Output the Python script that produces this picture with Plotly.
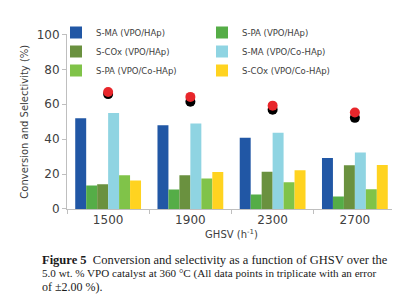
import plotly.graph_objects as go

categories = ["1500", "1900", "2300", "2700"]
series_names = ["S-MA (VPO/HAp)", "S-PA (VPO/HAp)", "S-COx (VPO/HAp)",
                "S-MA (VPO/Co-HAp)", "S-PA (VPO/Co-HAp)", "S-COx (VPO/Co-HAp)"]
s_ma_hap = [52.0, 48.0, 40.8, 29.2]
s_pa_hap = [13.4, 11.2, 8.3, 7.2]
s_cox_hap = [14.2, 19.4, 21.3, 25.0]
s_ma_cohap = [55.0, 48.9, 43.7, 32.3]
s_pa_cohap = [19.4, 17.5, 15.3, 11.3]
s_cox_cohap = [16.3, 21.2, 22.2, 25.2]
conv_hap = [65.8, 61.4, 56.9, 52.2]      # black dots
conv_cohap = [67.0, 64.2, 59.2, 55.3]    # red dots

colors = ["#2157A5", "#55AD47", "#6A913F", "#8FD4E2", "#80C349", "#FFD320"]
series = [s_ma_hap, s_pa_hap, s_cox_hap, s_ma_cohap, s_pa_cohap, s_cox_cohap]

FONT = "DejaVu Sans"
W, H = 400, 298
M_L, M_R, M_T, M_B = 48, 12, 3, 97
PAPER_W = W - M_L - M_R
PAPER_H = H - M_T - M_B
AXIS_LEFT_PX = 59
AXIS_TOP_PX = 20                   # pixel row of y = 100
x_dom_left = (AXIS_LEFT_PX - M_L) / PAPER_W
y_dom_top = (H - M_B - AXIS_TOP_PX) / PAPER_H

fig = go.Figure()
for name, vals, c in zip(series_names, series, colors):
    fig.add_trace(go.Bar(x=categories, y=vals, name=name, marker_color=c,
                         marker_line_width=0))

fig.add_trace(go.Scatter(x=categories, y=conv_hap, mode="markers",
                         marker=dict(color="black", size=10), showlegend=False))
fig.add_trace(go.Scatter(x=categories, y=conv_cohap, mode="markers",
                         marker=dict(color="#E8262B", size=10), showlegend=False))

fig.update_layout(
    width=W, height=H,
    margin=dict(l=M_L, r=M_R, t=M_T, b=M_B),
    paper_bgcolor="white", plot_bgcolor="white",
    barmode="group", bargap=0.2, bargroupgap=0,
    font=dict(family=FONT, color="#404040"),
    showlegend=True,
    legend=dict(orientation="h", x=0.0, y=1.0, xanchor="left", yanchor="top",
                font=dict(size=8.5, color="#404040", family=FONT),
                entrywidth=101, entrywidthmode="pixels",
                bgcolor="rgba(0,0,0,0)", traceorder="normal"),
    xaxis=dict(domain=[x_dom_left, 1], showline=True, linecolor="#BFBFBF",
               linewidth=1, ticks="outside", tickson="boundaries",
               tickcolor="#BFBFBF", ticklen=4,
               tickfont=dict(size=12, color="#404040"),
               title=dict(text="GHSV (h<sup>-1</sup>)", font=dict(size=10, color="#404040"),
                          standoff=4)),
    yaxis=dict(range=[0, 100], dtick=20, domain=[0, y_dom_top], showline=True,
               linecolor="#BFBFBF", linewidth=1, ticks="outside",
               tickcolor="#BFBFBF", ticklen=4,
               showgrid=False, zeroline=False,
               tickfont=dict(size=12, color="#404040"),
               title=dict(text="Conversion and Selectivity (%)",
                          font=dict(size=10, color="#404040"), standoff=6)),
)

cap_font = "Liberation Serif"
caption = [
    ("<b>Figure 5</b>  Conversion and selectivity as a function of GHSV over the", 254, 12.5),
    ("5.0 wt. % VPO catalyst at 360 °C (All data points in triplicate with an error", 268, 11.1),
    ("of ±2.00 %).", 282, 12.0),
]
for text, ypx, fs in caption:
    fig.add_annotation(text=text, xref="paper", yref="paper",
                       x=(32 - M_L) / PAPER_W, y=(H - M_B - ypx) / PAPER_H,
                       xanchor="left", yanchor="middle", showarrow=False,
                       font=dict(family=cap_font, size=fs, color="#1a1a1a"))

fig.write_html("out.html")
